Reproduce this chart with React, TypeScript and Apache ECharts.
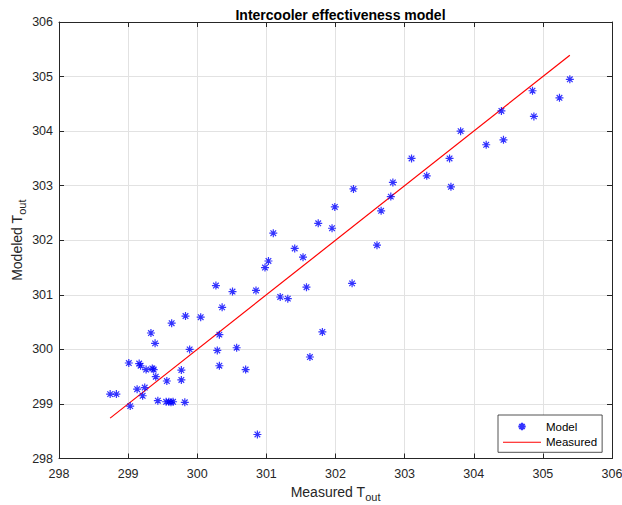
import React, { useEffect, useRef } from "react";
import * as echarts from "echarts";

// Measured T_out (x) and modelled T_out (y) for each operating point
const measuredTout: number[] = [
  298.74, 298.83, 299.03, 299.01, 299.16, 299.18, 299.13, 299.24, 299.21, 299.26,
  299.35, 299.37, 299.40, 299.56, 299.43, 299.55, 299.59, 299.62, 299.65, 299.82,
  299.77, 299.77, 299.33, 299.39, 299.63, 299.83, 299.89, 300.05, 300.29, 300.32,
  300.36, 300.57, 300.32, 300.70, 300.27, 300.51, 300.85, 300.87, 300.98, 301.03,
  301.10, 301.20, 301.31, 301.41, 301.53, 301.58, 301.63, 301.81, 301.75, 301.95,
  301.99, 302.24, 302.26, 302.60, 302.66, 302.80, 302.83, 303.10, 303.32, 303.67,
  303.65, 303.81, 304.18, 304.43, 304.40, 304.85, 304.87, 305.24, 305.39,
];
const modeledTout: number[] = [
  299.18, 299.18, 298.96, 299.75, 299.74, 299.70, 299.27, 299.30, 299.15, 299.63,
  299.65, 299.63, 299.50, 299.42, 299.06, 299.04, 299.04, 299.03, 299.04, 299.03,
  299.62, 299.44, 300.30, 300.11, 300.48, 300.61, 300.00, 300.59, 299.98, 300.27,
  300.77, 300.03, 299.70, 299.63, 301.17, 301.06, 301.08, 298.44, 301.50, 301.62,
  302.13, 300.96, 300.93, 301.85, 301.69, 301.14, 299.86, 300.32, 302.31, 302.22,
  302.61, 301.21, 302.94, 301.91, 302.54, 302.80, 303.06, 303.50, 303.18, 302.98,
  303.50, 304.00, 303.75, 303.84, 304.37, 304.74, 304.27, 304.61, 304.95,
];

const axisMin = 298;
const axisMax = 306;
const axisStep = 1;

const titleText = "Intercooler effectiveness model";
const seriesNames = ["Model", "Measured"];

const STAR = "path://M5 0L5 10M0 5L10 5M1.5 1.5L8.5 8.5M1.5 8.5L8.5 1.5";
const STAR_ICON =
  "path://M0 0M14 14M7 3L7 11M3 7L11 7M4.2 4.2L9.8 9.8M4.2 9.8L9.8 4.2";
const LINE_ICON = "path://M0 0H38V1.1H0Z";

export default function App() {
  const ref = useRef<HTMLDivElement>(null);
  useEffect(() => {
    if (!ref.current) return;
    const chart = echarts.init(ref.current, undefined, { renderer: "svg" });
    const lo = Math.min(...measuredTout);
    const hi = Math.max(...measuredTout);
    const font = "Liberation Sans, Arial, Helvetica, sans-serif";
    const ink = "#262626";
    const baseAxis = {
      type: "value" as const,
      min: axisMin,
      max: axisMax,
      interval: axisStep,
      axisLine: { show: true, onZero: false, lineStyle: { color: ink, width: 1 } },
      axisTick: { show: true, inside: true, length: 5, lineStyle: { color: ink, width: 1 } },
    };
    const nameRich = {
      a: { fontFamily: font, fontSize: 14, color: ink },
      b: { fontFamily: font, fontSize: 11, color: ink, padding: [9, 0, 0, 0] },
    };
    chart.setOption({
      animation: false,
      backgroundColor: "#fff",
      textStyle: { fontFamily: font },
      title: {
        text: titleText,
        left: 335.5,
        textAlign: "center",
        top: 3,
        textStyle: { fontFamily: font, fontSize: 14, fontWeight: "bold", color: "#000" },
      },
      grid: {
        left: 59,
        right: 10,
        top: 22,
        bottom: 46.5,
        containLabel: false,
        outerBoundsMode: "none",
      },
      legend: {
        left: 498,
        top: 415,
        orient: "vertical",
        data: [
          { name: seriesNames[0], icon: STAR_ICON },
          { name: seriesNames[1], icon: LINE_ICON, itemStyle: { color: "#ff0000" } },
        ],
        symbolKeepAspect: true,
        itemWidth: 38,
        itemHeight: 13,
        itemGap: 2.3,
        padding: [4, 5, 4, 5],
        borderColor: ink,
        borderWidth: 0.8,
        borderRadius: 0,
        backgroundColor: "#fff",
        textStyle: { fontFamily: font, fontSize: 11.5, color: "#000" },
      },
      xAxis: [
        {
          ...baseAxis,
          position: "bottom",
          name: "{a|Measured T}{b|out}",
          nameLocation: "middle",
          nameGap: 22,
          nameTextStyle: { rich: nameRich },
          axisLabel: { fontFamily: font, fontSize: 12.5, color: ink, margin: 9 },
          splitLine: { show: true, lineStyle: { color: "#e2e2e2", width: 1 } },
        },
        {
          ...baseAxis,
          position: "top",
          axisLabel: { show: false },
          splitLine: { show: false },
        },
      ],
      yAxis: [
        {
          ...baseAxis,
          position: "left",
          name: "{a|Modeled T}{b|out}",
          nameLocation: "middle",
          nameGap: 32,
          nameMoveOverlap: false,
          nameTextStyle: { rich: nameRich },
          axisLabel: { fontFamily: font, fontSize: 12.5, color: ink, margin: 6 },
          splitLine: { show: true, lineStyle: { color: "#e2e2e2", width: 1 } },
        },
        {
          ...baseAxis,
          position: "right",
          axisLabel: { show: false },
          splitLine: { show: false },
        },
      ],
      series: [
        {
          name: seriesNames[0],
          type: "scatter",
          xAxisIndex: 0,
          yAxisIndex: 0,
          symbol: STAR,
          symbolSize: 8,
          symbolKeepAspect: true,
          itemStyle: { color: "#0000ff", borderColor: "#0000ff", borderWidth: 1.2 },
          data: measuredTout.map((m, i) => [m, modeledTout[i]]),
          z: 3,
        },
        {
          name: seriesNames[1],
          type: "line",
          xAxisIndex: 0,
          yAxisIndex: 0,
          symbol: "none",
          showSymbol: false,
          lineStyle: { color: "#ff0000", width: 1.2 },
          itemStyle: { color: "#ff0000" },
          data: [
            [lo, lo],
            [hi, hi],
          ],
          z: 2,
        },
      ],
    });
    return () => chart.dispose();
  }, []);
  return (
    <div
      ref={ref}
      style={{ position: "fixed", left: 0, top: 0, width: 622, height: 505 }}
    />
  );
}
